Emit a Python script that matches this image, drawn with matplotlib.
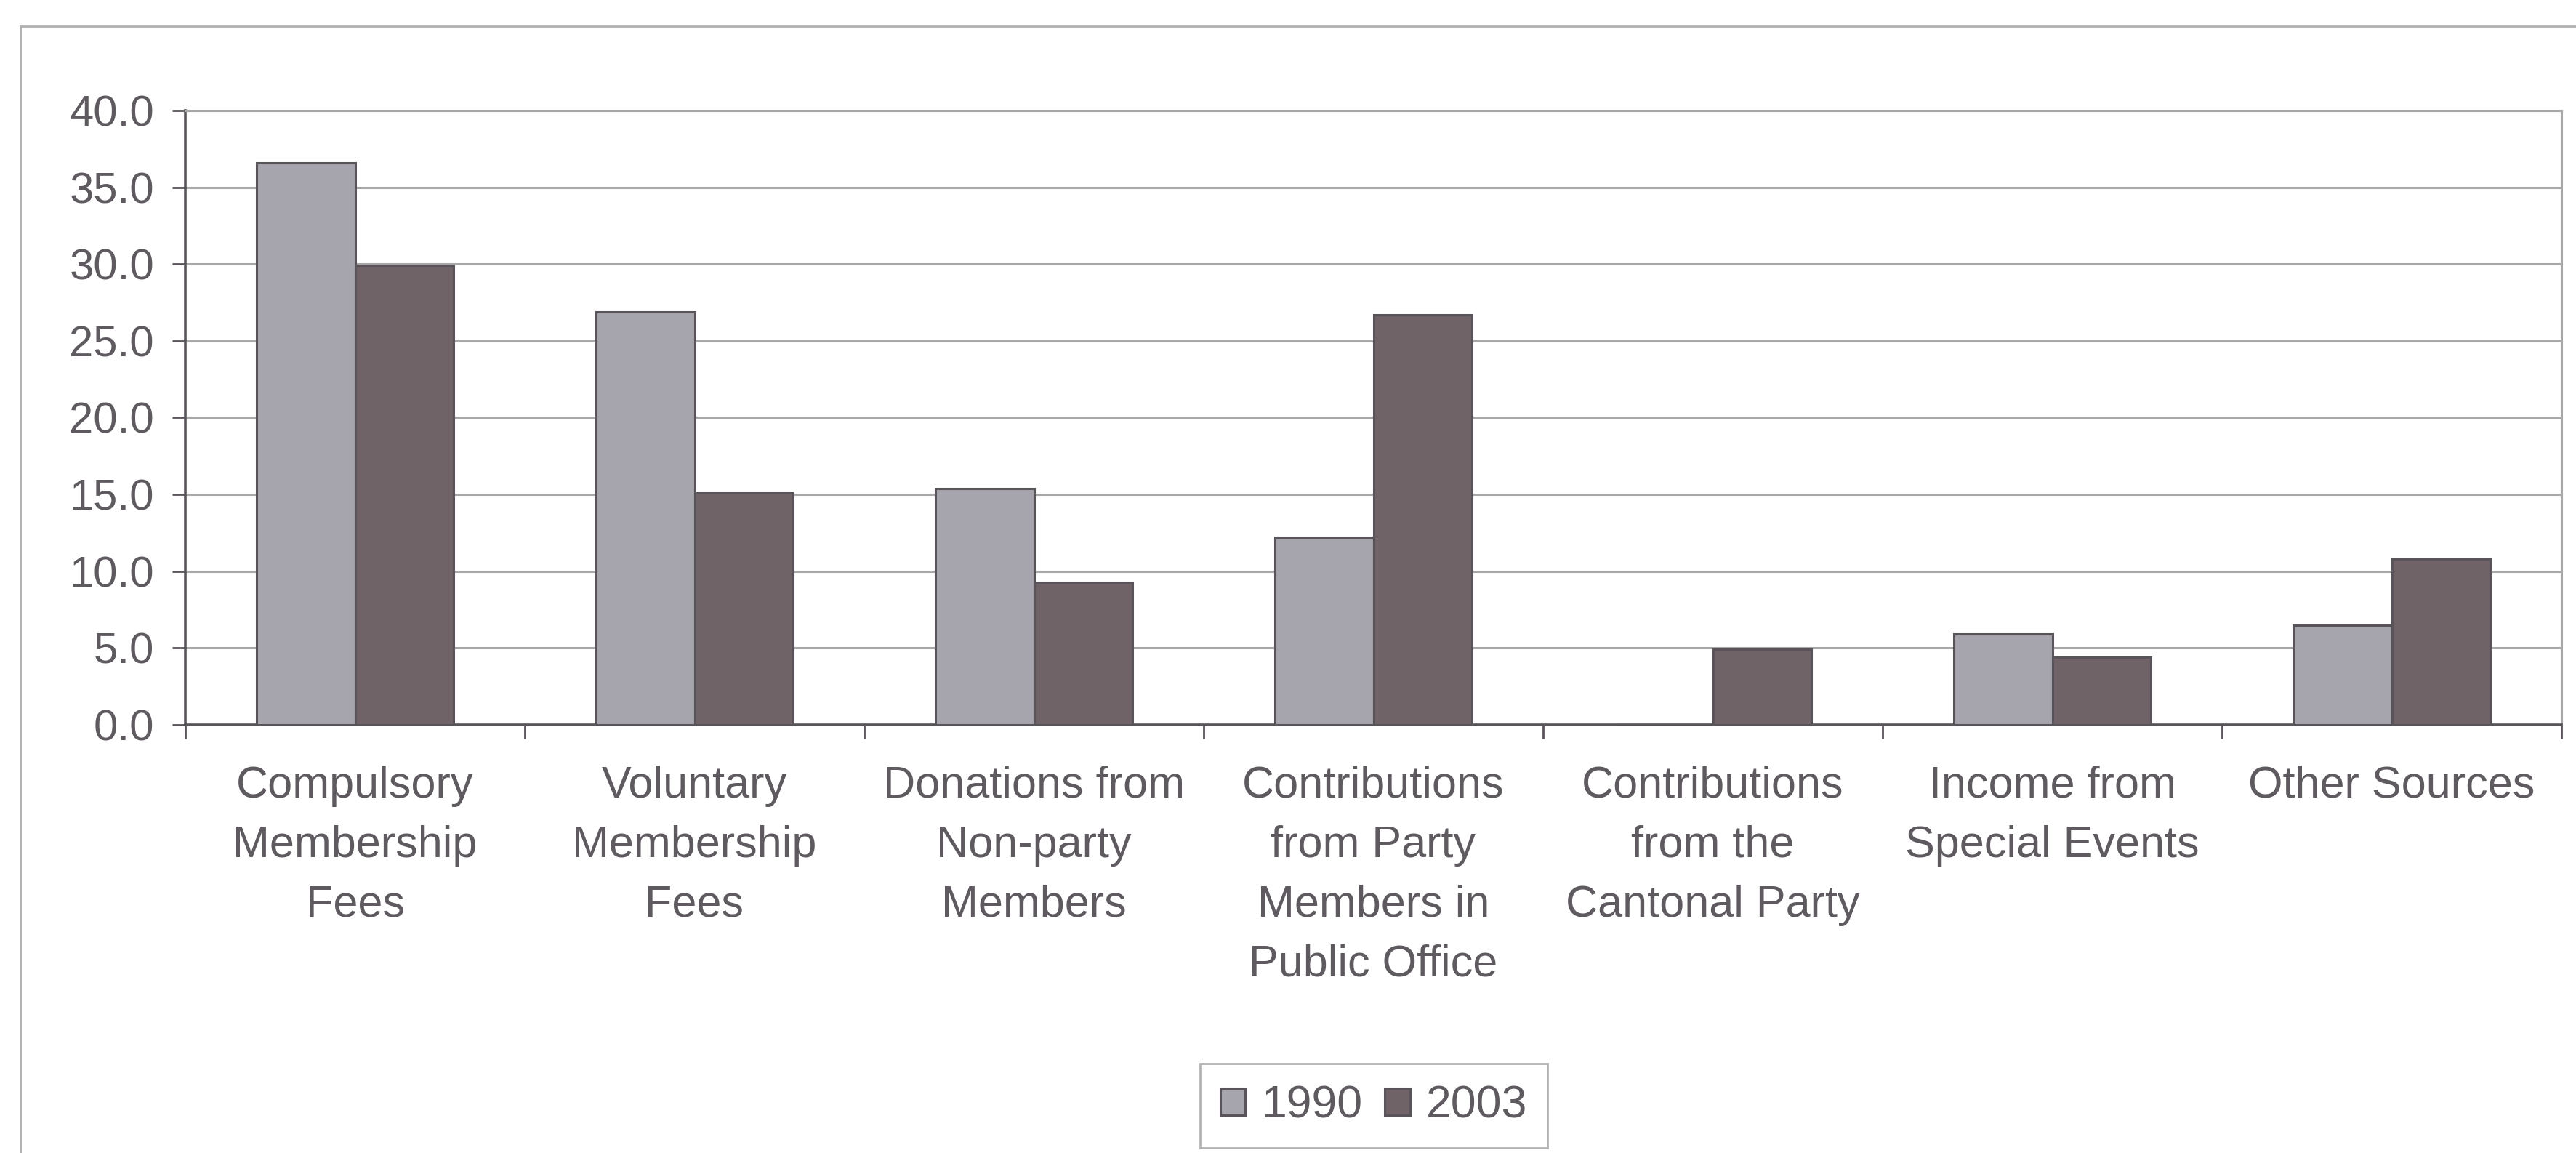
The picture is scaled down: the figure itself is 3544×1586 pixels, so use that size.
import numpy as np
import matplotlib
matplotlib.use("Agg")
import matplotlib.pyplot as plt
from matplotlib.patches import Rectangle

categories = ["Compulsory\nMembership\nFees",
              "Voluntary\nMembership\nFees",
              "Donations from\nNon-party\nMembers",
              "Contributions\nfrom Party\nMembers in\nPublic Office",
              "Contributions\nfrom the\nCantonal Party",
              "Income from\nSpecial Events",
              "Other Sources"]
values1990 = [36.6, 26.9, 15.4, 12.2, 0.0, 5.9, 6.5]
values2003 = [29.9, 15.1, 9.3, 26.7, 4.9, 4.4, 10.8]
series = ["1990", "2003"]
yticks = [0, 5, 10, 15, 20, 25, 30, 35, 40]

plt.rcParams['font.family'] = ['Liberation Sans', 'DejaVu Sans']

W, H = 3544, 1586
fig = plt.figure(figsize=(W / 100, H / 100), dpi=100)
fig.patch.set_facecolor("white")

# outer chart frame (only left and top visible in the scan)
fig.add_artist(Rectangle((28 / W, -0.2), 1.2, 1.2 - 36 / H, transform=fig.transFigure,
                         fill=False, edgecolor="#b0b0b0", linewidth=2))

ax = fig.add_axes([255 / W, 1 - 997 / H, (3524 - 255) / W, (997 - 152) / H])

x = np.arange(len(categories))
bw = 0.29
ax.bar(x - bw / 2, values1990, bw, color="#a6a4ac", edgecolor="#58545a", linewidth=2.2, label=series[0], zorder=3)
ax.bar(x + bw / 2, values2003, bw, color="#6f6368", edgecolor="#58545a", linewidth=2.2, label=series[1], zorder=3)

ax.set_xlim(-0.5, len(categories) - 0.5)
ax.set_ylim(0, 40)
ax.set_yticks(yticks)
ax.set_yticklabels(["%.1f" % v for v in yticks])
ax.yaxis.grid(True, color="#a8a8a8", linewidth=2.2, zorder=0)
ax.set_axisbelow(True)

# boundaries get the tick marks, centres get the labels
ax.set_xticks(np.arange(len(categories) + 1) - 0.5)
ax.set_xticklabels([])
ax.set_xticks(x, minor=True)
ax.set_xticklabels(categories, minor=True, linespacing=1.57)
ax.tick_params(axis="x", which="major", direction="out", length=14, width=2, color="#58545a")
ax.tick_params(axis="x", which="minor", length=0, pad=40, labelsize=44, labelcolor="#5e5a60")
ax.tick_params(axis="y", direction="out", length=13, width=2, color="#58545a",
               pad=18, labelsize=43, labelcolor="#5e5a60")

for s in ["left", "bottom"]:
    ax.spines[s].set_color("#58545a")
    ax.spines[s].set_linewidth(2.6)
ax.spines["right"].set_color("#a8a8a8")
ax.spines["right"].set_linewidth(2.2)
ax.spines["top"].set_color("#a8a8a8")
ax.spines["top"].set_linewidth(2.2)

leg = ax.legend(loc="center", bbox_to_anchor=((1890 - 255) / (3524 - 255), -(1521 - 997) / (997 - 152)),
                ncol=2, fontsize=45, frameon=True, fancybox=False, handlelength=0.55, handleheight=0.55,
                handletextpad=0.35, columnspacing=0.5, borderpad=0.45, labelcolor="#5e5a60")
leg.get_frame().set_edgecolor("#a0a0a0")
leg.get_frame().set_linewidth(2)

plt.savefig("out.png", dpi=100, facecolor="white")
